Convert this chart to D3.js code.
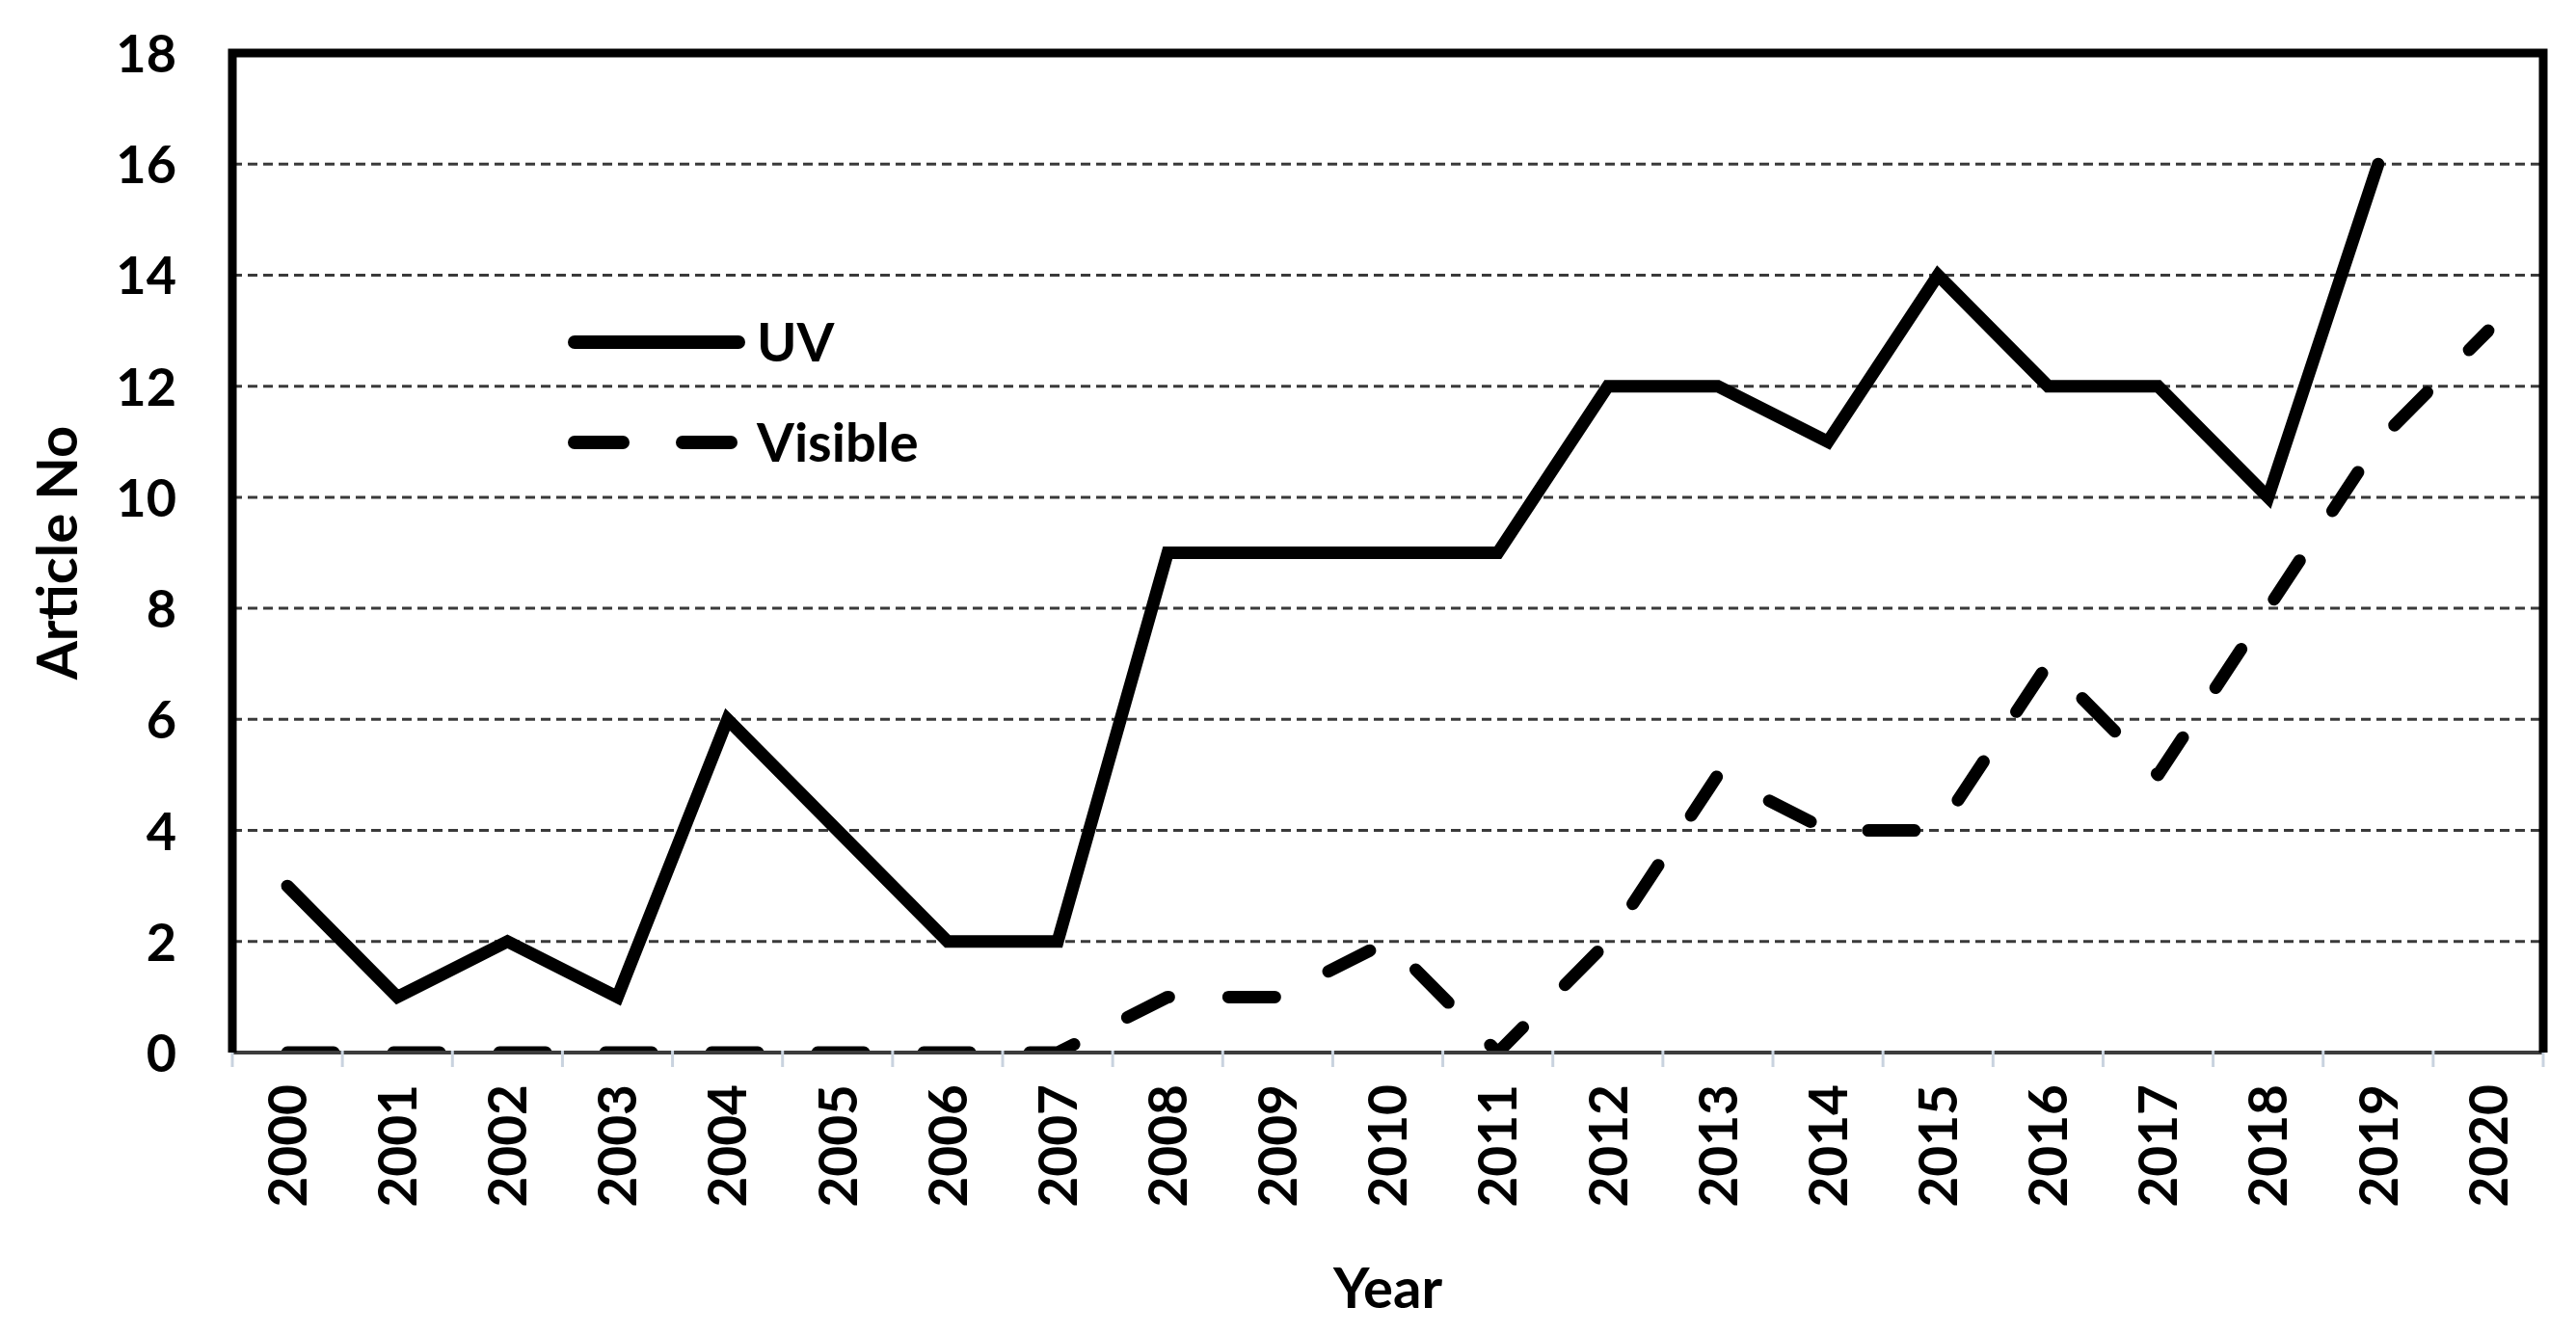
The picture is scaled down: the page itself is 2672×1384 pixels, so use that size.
<!DOCTYPE html>
<html>
<head>
<meta charset="utf-8">
<script src="https://cdn.jsdelivr.net/npm/d3@7"></script>
<style>
  html, body { margin: 0; padding: 0; background: #fff; }
  svg { display: block; }
  text { font-family: Lato, "Open Sans", sans-serif; font-weight: 700; fill: #000; }
</style>
</head>
<body>
<svg id="chart" width="2672" height="1384"></svg>
<script>
const years = ["2000","2001","2002","2003","2004","2005","2006","2007","2008","2009","2010",
               "2011","2012","2013","2014","2015","2016","2017","2018","2019","2020"];
const uvValues = [3,1,2,1,6,4,2,2,9,9,9,9,12,12,11,14,12,12,10,16,null];
const visibleValues = [0,0,0,0,0,0,0,0,1,1,2,0,2,5,4,4,7,5,8,11,13];
const yTicks = [0,2,4,6,8,10,12,14,16,18];
const seriesNames = ["UV","Visible"];

const W = 2672, H = 1384;
const m = { left: 241, right: 2638, top: 55, bottom: 1092 };

const svg = d3.select("#chart");

const x = d3.scaleBand().domain(years).range([m.left, m.right]).paddingInner(0).paddingOuter(0);
const y = d3.scaleLinear().domain([0, 18]).range([m.bottom, m.top]);
const cx = d => x(d) + x.bandwidth() / 2;

// clip to plot area
svg.append("defs").append("clipPath").attr("id", "plotClip")
  .append("rect")
  .attr("x", m.left).attr("y", 0)
  .attr("width", m.right - m.left).attr("height", m.bottom + 1);

// gridlines
svg.append("g").selectAll("line")
  .data(yTicks.filter(t => t > 0 && t < 18))
  .join("line")
  .attr("x1", m.left).attr("x2", m.right)
  .attr("y1", d => y(d)).attr("y2", d => y(d))
  .attr("stroke", "#3a3a3a").attr("stroke-width", 3)
  .attr("stroke-dasharray", "10,6");

// y axis tick labels
const yAxis = d3.axisLeft(y).tickValues(yTicks).tickSize(0).tickPadding(0);
const gy = svg.append("g").attr("transform", `translate(${m.left - 58},0)`).call(yAxis);
gy.select(".domain").remove();
gy.selectAll("text").attr("font-size", 54).attr("dy", "0.36em")
  .style("font-family", "Lato, sans-serif").style("font-weight", 700).attr("fill", "#000");

// x axis labels
const xAxis = d3.axisBottom(x).tickSize(0).tickPadding(0);
const gx = svg.append("g").attr("transform", `translate(0,${m.bottom})`).call(xAxis);
gx.select(".domain").remove();
gx.selectAll("text")
  .attr("font-size", 55)
  .style("font-family", "Lato, sans-serif").style("font-weight", 700).attr("fill", "#000")
  .attr("text-anchor", "end")
  .attr("transform", "translate(0,33) rotate(-90)")
  .attr("x", 0).attr("y", 0).attr("dy", "0.36em");

// series lines (clipped to plot area)
const line = d3.line()
  .defined(d => d.v !== null)
  .x(d => cx(d.year)).y(d => y(d.v));

const uvData = years.map((yr, i) => ({ year: yr, v: uvValues[i] }));
const visData = years.map((yr, i) => ({ year: yr, v: visibleValues[i] }));

const series = svg.append("g").attr("clip-path", "url(#plotClip)");
series.append("path").datum(uvData)
  .attr("d", line)
  .attr("fill", "none").attr("stroke", "#000").attr("stroke-width", 13)
  .attr("stroke-linejoin", "miter").attr("stroke-miterlimit", 3).attr("stroke-linecap", "round");

series.append("path").datum(visData)
  .attr("d", line)
  .attr("fill", "none").attr("stroke", "#000").attr("stroke-width", 13)
  .attr("stroke-linejoin", "round").attr("stroke-linecap", "round")
  .attr("stroke-dasharray", "48,62");

// bottom axis line
svg.append("line")
  .attr("x1", m.left).attr("x2", m.right)
  .attr("y1", m.bottom).attr("y2", m.bottom)
  .attr("stroke", "#3c3c3c").attr("stroke-width", 4);

// category boundary ticks
svg.append("g").selectAll("line")
  .data(d3.range(years.length + 1))
  .join("line")
  .attr("x1", i => m.left + i * x.bandwidth()).attr("x2", i => m.left + i * x.bandwidth())
  .attr("y1", m.bottom - 2).attr("y2", m.bottom + 15)
  .attr("stroke", "#c9d3df").attr("stroke-width", 3);

// plot border (top, left, right)
svg.append("path")
  .attr("d", `M${m.left},${m.bottom} L${m.left},${m.top} L${m.right},${m.top} L${m.right},${m.bottom}`)
  .attr("fill", "none").attr("stroke", "#000").attr("stroke-width", 9)
  .attr("stroke-linejoin", "miter");

// legend
const legend = svg.append("g");
const legendRows = [
  { name: seriesNames[0], y: 355, dash: null },
  { name: seriesNames[1], y: 459, dash: "50,62" }
];
legendRows.forEach(r => {
  legend.append("line")
    .attr("x1", 596).attr("x2", 766)
    .attr("y1", r.y).attr("y2", r.y)
    .attr("stroke", "#000").attr("stroke-width", 14)
    .attr("stroke-linecap", "round")
    .attr("stroke-dasharray", r.dash);
  legend.append("text")
    .attr("x", 785).attr("y", r.y)
    .attr("dy", "0.36em")
    .attr("font-size", 56)
    .text(r.name);
});

// axis titles
svg.append("text")
  .attr("x", (m.left + m.right) / 2).attr("y", 1357)
  .attr("text-anchor", "middle").attr("font-size", 58)
  .text("Year");

svg.append("text")
  .attr("transform", `translate(80,${(m.top + m.bottom) / 2}) rotate(-90)`)
  .attr("text-anchor", "middle").attr("font-size", 58)
  .text("Article No");
</script>
</body>
</html>
